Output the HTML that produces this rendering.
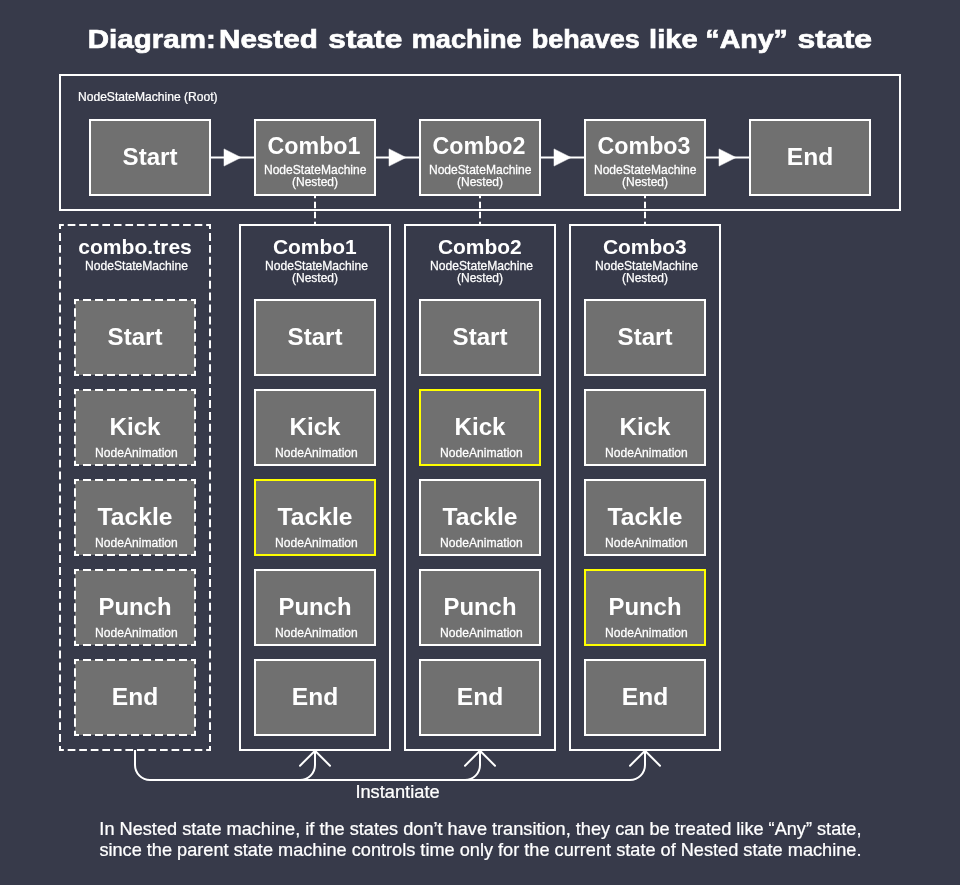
<!DOCTYPE html>
<html><head><meta charset="utf-8"><style>
html,body{margin:0;padding:0;background:#373a4a;}
body{width:960px;height:885px;overflow:hidden;}
svg{display:block;will-change:transform;}
text{font-family:"Liberation Sans", sans-serif;fill:#fff;}
text[font-weight=normal]{stroke:#fff;stroke-width:0.25px;}
</style></head><body>
<svg width="960" height="885" viewBox="0 0 960 885">
<rect x="0" y="0" width="960" height="885" fill="#373a4a"/>
<rect x="60" y="75" width="840" height="135" fill="none" stroke="#ffffff" stroke-width="2"/>
<text transform="translate(78,101.2) scale(1.0070,1)" font-size="12" font-weight="normal" text-anchor="start" >NodeStateMachine (Root)</text>
<rect x="90" y="120" width="120" height="75" fill="#707070" stroke="#ffffff" stroke-width="2"/>
<text transform="translate(150,165) scale(1.0470,1)" font-size="23" font-weight="bold" text-anchor="middle" >Start</text>
<rect x="255" y="120" width="120" height="75" fill="#707070" stroke="#ffffff" stroke-width="2"/>
<text transform="translate(314,154) scale(1.0100,1)" font-size="23" font-weight="bold" text-anchor="middle" >Combo1</text>
<text transform="translate(315.2,173.9) scale(1.0060,1)" font-size="12" font-weight="normal" text-anchor="middle" >NodeStateMachine</text>
<text x="315" y="185.8" font-size="12" font-weight="normal" text-anchor="middle" >(Nested)</text>
<rect x="420" y="120" width="120" height="75" fill="#707070" stroke="#ffffff" stroke-width="2"/>
<text transform="translate(479,154) scale(1.0100,1)" font-size="23" font-weight="bold" text-anchor="middle" >Combo2</text>
<text transform="translate(480.2,173.9) scale(1.0060,1)" font-size="12" font-weight="normal" text-anchor="middle" >NodeStateMachine</text>
<text x="480" y="185.8" font-size="12" font-weight="normal" text-anchor="middle" >(Nested)</text>
<rect x="585" y="120" width="120" height="75" fill="#707070" stroke="#ffffff" stroke-width="2"/>
<text transform="translate(644,154) scale(1.0100,1)" font-size="23" font-weight="bold" text-anchor="middle" >Combo3</text>
<text transform="translate(645.2,173.9) scale(1.0060,1)" font-size="12" font-weight="normal" text-anchor="middle" >NodeStateMachine</text>
<text x="645" y="185.8" font-size="12" font-weight="normal" text-anchor="middle" >(Nested)</text>
<rect x="750" y="120" width="120" height="75" fill="#707070" stroke="#ffffff" stroke-width="2"/>
<text transform="translate(810,165) scale(1.0690,1)" font-size="23" font-weight="bold" text-anchor="middle" >End</text>
<line x1="210" y1="157.5" x2="255" y2="157.5" stroke="#ffffff" stroke-width="2"/>
<path d="M224.0,148.9 L241.0,157.5 L224.0,166.1 Z" fill="#ffffff" stroke="#ffffff" stroke-width="0.5" stroke-linejoin="round"/>
<line x1="375" y1="157.5" x2="420" y2="157.5" stroke="#ffffff" stroke-width="2"/>
<path d="M389.0,148.9 L406.0,157.5 L389.0,166.1 Z" fill="#ffffff" stroke="#ffffff" stroke-width="0.5" stroke-linejoin="round"/>
<line x1="540" y1="157.5" x2="585" y2="157.5" stroke="#ffffff" stroke-width="2"/>
<path d="M554.0,148.9 L571.0,157.5 L554.0,166.1 Z" fill="#ffffff" stroke="#ffffff" stroke-width="0.5" stroke-linejoin="round"/>
<line x1="705" y1="157.5" x2="750" y2="157.5" stroke="#ffffff" stroke-width="2"/>
<path d="M719.0,148.9 L736.0,157.5 L719.0,166.1 Z" fill="#ffffff" stroke="#ffffff" stroke-width="0.5" stroke-linejoin="round"/>
<line x1="315.00" y1="195.00" x2="315.00" y2="225.00" stroke="#ffffff" stroke-width="2" stroke-dasharray="6.667 3.333" stroke-dashoffset="3.333"/>
<line x1="480.00" y1="195.00" x2="480.00" y2="225.00" stroke="#ffffff" stroke-width="2" stroke-dasharray="6.667 3.333" stroke-dashoffset="3.333"/>
<line x1="645.00" y1="195.00" x2="645.00" y2="225.00" stroke="#ffffff" stroke-width="2" stroke-dasharray="6.667 3.333" stroke-dashoffset="3.333"/>
<line x1="59.00" y1="225.00" x2="211.00" y2="225.00" stroke="#ffffff" stroke-width="2" stroke-dasharray="7.692 3.846" stroke-dashoffset="2.846"/>
<line x1="210.00" y1="224.00" x2="210.00" y2="751.00" stroke="#ffffff" stroke-width="2" stroke-dasharray="7.955 3.977" stroke-dashoffset="2.977"/>
<line x1="211.00" y1="750.00" x2="59.00" y2="750.00" stroke="#ffffff" stroke-width="2" stroke-dasharray="7.692 3.846" stroke-dashoffset="2.846"/>
<line x1="60.00" y1="751.00" x2="60.00" y2="224.00" stroke="#ffffff" stroke-width="2" stroke-dasharray="7.955 3.977" stroke-dashoffset="2.977"/>
<text transform="translate(135,253.75) scale(1.0550,1)" font-size="20" font-weight="bold" text-anchor="middle" >combo.tres</text>
<text transform="translate(136.5,269.75) scale(1.0100,1)" font-size="12" font-weight="normal" text-anchor="middle" >NodeStateMachine</text>
<rect x="75" y="300" width="120" height="75" fill="#707070"/>
<line x1="74.00" y1="300.00" x2="196.00" y2="300.00" stroke="#ffffff" stroke-width="2" stroke-dasharray="8.000 4.000" stroke-dashoffset="3.000"/>
<line x1="195.00" y1="299.00" x2="195.00" y2="376.00" stroke="#ffffff" stroke-width="2" stroke-dasharray="8.333 4.167" stroke-dashoffset="3.167"/>
<line x1="196.00" y1="375.00" x2="74.00" y2="375.00" stroke="#ffffff" stroke-width="2" stroke-dasharray="8.000 4.000" stroke-dashoffset="3.000"/>
<line x1="75.00" y1="376.00" x2="75.00" y2="299.00" stroke="#ffffff" stroke-width="2" stroke-dasharray="8.333 4.167" stroke-dashoffset="3.167"/>
<text transform="translate(135,345) scale(1.0470,1)" font-size="23" font-weight="bold" text-anchor="middle" >Start</text>
<rect x="75" y="390" width="120" height="75" fill="#707070"/>
<line x1="74.00" y1="390.00" x2="196.00" y2="390.00" stroke="#ffffff" stroke-width="2" stroke-dasharray="8.000 4.000" stroke-dashoffset="3.000"/>
<line x1="195.00" y1="389.00" x2="195.00" y2="466.00" stroke="#ffffff" stroke-width="2" stroke-dasharray="8.333 4.167" stroke-dashoffset="3.167"/>
<line x1="196.00" y1="465.00" x2="74.00" y2="465.00" stroke="#ffffff" stroke-width="2" stroke-dasharray="8.000 4.000" stroke-dashoffset="3.000"/>
<line x1="75.00" y1="466.00" x2="75.00" y2="389.00" stroke="#ffffff" stroke-width="2" stroke-dasharray="8.333 4.167" stroke-dashoffset="3.167"/>
<text transform="translate(135,434.75) scale(1.0540,1)" font-size="23" font-weight="bold" text-anchor="middle" >Kick</text>
<text transform="translate(136.4,456.6) scale(1.0100,1)" font-size="12" font-weight="normal" text-anchor="middle" >NodeAnimation</text>
<rect x="75" y="480" width="120" height="75" fill="#707070"/>
<line x1="74.00" y1="480.00" x2="196.00" y2="480.00" stroke="#ffffff" stroke-width="2" stroke-dasharray="8.000 4.000" stroke-dashoffset="3.000"/>
<line x1="195.00" y1="479.00" x2="195.00" y2="556.00" stroke="#ffffff" stroke-width="2" stroke-dasharray="8.333 4.167" stroke-dashoffset="3.167"/>
<line x1="196.00" y1="555.00" x2="74.00" y2="555.00" stroke="#ffffff" stroke-width="2" stroke-dasharray="8.000 4.000" stroke-dashoffset="3.000"/>
<line x1="75.00" y1="556.00" x2="75.00" y2="479.00" stroke="#ffffff" stroke-width="2" stroke-dasharray="8.333 4.167" stroke-dashoffset="3.167"/>
<text transform="translate(135,524.75) scale(1.0720,1)" font-size="23" font-weight="bold" text-anchor="middle" >Tackle</text>
<text transform="translate(136.4,546.6) scale(1.0100,1)" font-size="12" font-weight="normal" text-anchor="middle" >NodeAnimation</text>
<rect x="75" y="570" width="120" height="75" fill="#707070"/>
<line x1="74.00" y1="570.00" x2="196.00" y2="570.00" stroke="#ffffff" stroke-width="2" stroke-dasharray="8.000 4.000" stroke-dashoffset="3.000"/>
<line x1="195.00" y1="569.00" x2="195.00" y2="646.00" stroke="#ffffff" stroke-width="2" stroke-dasharray="8.333 4.167" stroke-dashoffset="3.167"/>
<line x1="196.00" y1="645.00" x2="74.00" y2="645.00" stroke="#ffffff" stroke-width="2" stroke-dasharray="8.000 4.000" stroke-dashoffset="3.000"/>
<line x1="75.00" y1="646.00" x2="75.00" y2="569.00" stroke="#ffffff" stroke-width="2" stroke-dasharray="8.333 4.167" stroke-dashoffset="3.167"/>
<text transform="translate(135,614.75) scale(1.0390,1)" font-size="23" font-weight="bold" text-anchor="middle" >Punch</text>
<text transform="translate(136.4,636.6) scale(1.0100,1)" font-size="12" font-weight="normal" text-anchor="middle" >NodeAnimation</text>
<rect x="75" y="660" width="120" height="75" fill="#707070"/>
<line x1="74.00" y1="660.00" x2="196.00" y2="660.00" stroke="#ffffff" stroke-width="2" stroke-dasharray="8.000 4.000" stroke-dashoffset="3.000"/>
<line x1="195.00" y1="659.00" x2="195.00" y2="736.00" stroke="#ffffff" stroke-width="2" stroke-dasharray="8.333 4.167" stroke-dashoffset="3.167"/>
<line x1="196.00" y1="735.00" x2="74.00" y2="735.00" stroke="#ffffff" stroke-width="2" stroke-dasharray="8.000 4.000" stroke-dashoffset="3.000"/>
<line x1="75.00" y1="736.00" x2="75.00" y2="659.00" stroke="#ffffff" stroke-width="2" stroke-dasharray="8.333 4.167" stroke-dashoffset="3.167"/>
<text transform="translate(135,705) scale(1.0690,1)" font-size="23" font-weight="bold" text-anchor="middle" >End</text>
<rect x="240" y="225" width="150" height="525" fill="none" stroke="#ffffff" stroke-width="2"/>
<text transform="translate(314.8,253.75) scale(1.0480,1)" font-size="20" font-weight="bold" text-anchor="middle" >Combo1</text>
<text transform="translate(316.5,269.75) scale(1.0100,1)" font-size="12" font-weight="normal" text-anchor="middle" >NodeStateMachine</text>
<text x="315" y="282" font-size="12" font-weight="normal" text-anchor="middle" >(Nested)</text>
<rect x="255" y="300" width="120" height="75" fill="#707070" stroke="#ffffff" stroke-width="2"/>
<text transform="translate(315,345) scale(1.0470,1)" font-size="23" font-weight="bold" text-anchor="middle" >Start</text>
<rect x="255" y="390" width="120" height="75" fill="#707070" stroke="#ffffff" stroke-width="2"/>
<text transform="translate(315,434.75) scale(1.0540,1)" font-size="23" font-weight="bold" text-anchor="middle" >Kick</text>
<text transform="translate(316.4,456.6) scale(1.0100,1)" font-size="12" font-weight="normal" text-anchor="middle" >NodeAnimation</text>
<rect x="255" y="480" width="120" height="75" fill="#707070" stroke="#ffff00" stroke-width="2"/>
<text transform="translate(315,524.75) scale(1.0720,1)" font-size="23" font-weight="bold" text-anchor="middle" >Tackle</text>
<text transform="translate(316.4,546.6) scale(1.0100,1)" font-size="12" font-weight="normal" text-anchor="middle" >NodeAnimation</text>
<rect x="255" y="570" width="120" height="75" fill="#707070" stroke="#ffffff" stroke-width="2"/>
<text transform="translate(315,614.75) scale(1.0390,1)" font-size="23" font-weight="bold" text-anchor="middle" >Punch</text>
<text transform="translate(316.4,636.6) scale(1.0100,1)" font-size="12" font-weight="normal" text-anchor="middle" >NodeAnimation</text>
<rect x="255" y="660" width="120" height="75" fill="#707070" stroke="#ffffff" stroke-width="2"/>
<text transform="translate(315,705) scale(1.0690,1)" font-size="23" font-weight="bold" text-anchor="middle" >End</text>
<rect x="405" y="225" width="150" height="525" fill="none" stroke="#ffffff" stroke-width="2"/>
<text transform="translate(479.8,253.75) scale(1.0480,1)" font-size="20" font-weight="bold" text-anchor="middle" >Combo2</text>
<text transform="translate(481.5,269.75) scale(1.0100,1)" font-size="12" font-weight="normal" text-anchor="middle" >NodeStateMachine</text>
<text x="480" y="282" font-size="12" font-weight="normal" text-anchor="middle" >(Nested)</text>
<rect x="420" y="300" width="120" height="75" fill="#707070" stroke="#ffffff" stroke-width="2"/>
<text transform="translate(480,345) scale(1.0470,1)" font-size="23" font-weight="bold" text-anchor="middle" >Start</text>
<rect x="420" y="390" width="120" height="75" fill="#707070" stroke="#ffff00" stroke-width="2"/>
<text transform="translate(480,434.75) scale(1.0540,1)" font-size="23" font-weight="bold" text-anchor="middle" >Kick</text>
<text transform="translate(481.4,456.6) scale(1.0100,1)" font-size="12" font-weight="normal" text-anchor="middle" >NodeAnimation</text>
<rect x="420" y="480" width="120" height="75" fill="#707070" stroke="#ffffff" stroke-width="2"/>
<text transform="translate(480,524.75) scale(1.0720,1)" font-size="23" font-weight="bold" text-anchor="middle" >Tackle</text>
<text transform="translate(481.4,546.6) scale(1.0100,1)" font-size="12" font-weight="normal" text-anchor="middle" >NodeAnimation</text>
<rect x="420" y="570" width="120" height="75" fill="#707070" stroke="#ffffff" stroke-width="2"/>
<text transform="translate(480,614.75) scale(1.0390,1)" font-size="23" font-weight="bold" text-anchor="middle" >Punch</text>
<text transform="translate(481.4,636.6) scale(1.0100,1)" font-size="12" font-weight="normal" text-anchor="middle" >NodeAnimation</text>
<rect x="420" y="660" width="120" height="75" fill="#707070" stroke="#ffffff" stroke-width="2"/>
<text transform="translate(480,705) scale(1.0690,1)" font-size="23" font-weight="bold" text-anchor="middle" >End</text>
<rect x="570" y="225" width="150" height="525" fill="none" stroke="#ffffff" stroke-width="2"/>
<text transform="translate(644.8,253.75) scale(1.0480,1)" font-size="20" font-weight="bold" text-anchor="middle" >Combo3</text>
<text transform="translate(646.5,269.75) scale(1.0100,1)" font-size="12" font-weight="normal" text-anchor="middle" >NodeStateMachine</text>
<text x="645" y="282" font-size="12" font-weight="normal" text-anchor="middle" >(Nested)</text>
<rect x="585" y="300" width="120" height="75" fill="#707070" stroke="#ffffff" stroke-width="2"/>
<text transform="translate(645,345) scale(1.0470,1)" font-size="23" font-weight="bold" text-anchor="middle" >Start</text>
<rect x="585" y="390" width="120" height="75" fill="#707070" stroke="#ffffff" stroke-width="2"/>
<text transform="translate(645,434.75) scale(1.0540,1)" font-size="23" font-weight="bold" text-anchor="middle" >Kick</text>
<text transform="translate(646.4,456.6) scale(1.0100,1)" font-size="12" font-weight="normal" text-anchor="middle" >NodeAnimation</text>
<rect x="585" y="480" width="120" height="75" fill="#707070" stroke="#ffffff" stroke-width="2"/>
<text transform="translate(645,524.75) scale(1.0720,1)" font-size="23" font-weight="bold" text-anchor="middle" >Tackle</text>
<text transform="translate(646.4,546.6) scale(1.0100,1)" font-size="12" font-weight="normal" text-anchor="middle" >NodeAnimation</text>
<rect x="585" y="570" width="120" height="75" fill="#707070" stroke="#ffff00" stroke-width="2"/>
<text transform="translate(645,614.75) scale(1.0390,1)" font-size="23" font-weight="bold" text-anchor="middle" >Punch</text>
<text transform="translate(646.4,636.6) scale(1.0100,1)" font-size="12" font-weight="normal" text-anchor="middle" >NodeAnimation</text>
<rect x="585" y="660" width="120" height="75" fill="#707070" stroke="#ffffff" stroke-width="2"/>
<text transform="translate(645,705) scale(1.0690,1)" font-size="23" font-weight="bold" text-anchor="middle" >End</text>
<path d="M135,750 V765 A15,15 0 0 0 150,780 H630 A15,15 0 0 0 645,765 V750" fill="none" stroke="#ffffff" stroke-width="2"/>
<path d="M300,780 A15,15 0 0 0 315,765 V750" fill="none" stroke="#ffffff" stroke-width="2"/>
<path d="M465,780 A15,15 0 0 0 480,765 V750" fill="none" stroke="#ffffff" stroke-width="2"/>
<path d="M300,765.7 L315,750.7 L330,765.7" fill="none" stroke="#ffffff" stroke-width="2" stroke-linecap="round" stroke-linejoin="round"/>
<path d="M465,765.7 L480,750.7 L495,765.7" fill="none" stroke="#ffffff" stroke-width="2" stroke-linecap="round" stroke-linejoin="round"/>
<path d="M630,765.7 L645,750.7 L660,765.7" fill="none" stroke="#ffffff" stroke-width="2" stroke-linecap="round" stroke-linejoin="round"/>
<text transform="translate(397.5,797.7) scale(1.0150,1)" font-size="18" font-weight="normal" text-anchor="middle" >Instantiate</text>
<text transform="translate(87.77,48) scale(1.1140,1)" font-size="26.5" font-weight="bold" text-anchor="start" stroke="#fff" stroke-width="0.7">Diagram:</text>
<text transform="translate(219.01,48) scale(1.1180,1)" font-size="26.5" font-weight="bold" text-anchor="start" stroke="#fff" stroke-width="0.7">Nested</text>
<text transform="translate(328.3,48) scale(1.1960,1)" font-size="26.5" font-weight="bold" text-anchor="start" stroke="#fff" stroke-width="0.7">state</text>
<text transform="translate(411.7,48) scale(1.0240,1)" font-size="26.5" font-weight="bold" text-anchor="start" stroke="#fff" stroke-width="0.7">machine</text>
<text transform="translate(531.71,48) scale(1.0190,1)" font-size="26.5" font-weight="bold" text-anchor="start" stroke="#fff" stroke-width="0.7">behaves</text>
<text transform="translate(649.05,48) scale(1.0980,1)" font-size="26.5" font-weight="bold" text-anchor="start" stroke="#fff" stroke-width="0.7">like</text>
<text transform="translate(705.34,48) scale(1.0790,1)" font-size="26.5" font-weight="bold" text-anchor="start" stroke="#fff" stroke-width="0.7">“Any”</text>
<text transform="translate(797.55,48) scale(1.2040,1)" font-size="26.5" font-weight="bold" text-anchor="start" stroke="#fff" stroke-width="0.7">state</text>
<text transform="translate(480.4,835) scale(1.0090,1)" font-size="18" font-weight="normal" text-anchor="middle" >In Nested state machine, if the states don’t have transition, they can be treated like “Any” state,</text>
<text transform="translate(480.4,855.5) scale(1.0090,1)" font-size="18" font-weight="normal" text-anchor="middle" >since the parent state machine controls time only for the current state of Nested state machine.</text>
</svg>
</body></html>
